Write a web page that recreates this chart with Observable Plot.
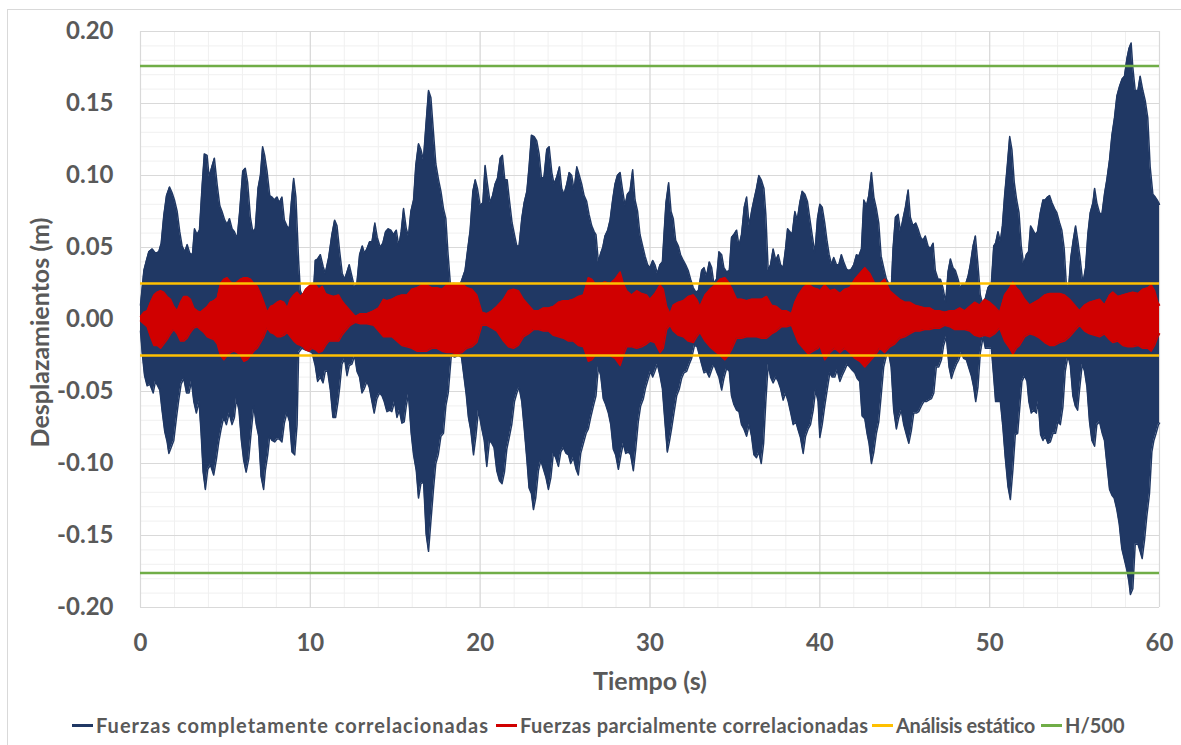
<!DOCTYPE html>
<html>
<head>
<meta charset="utf-8">
<script src="https://cdn.jsdelivr.net/npm/d3@7"></script>
<script src="https://cdn.jsdelivr.net/npm/@observablehq/plot@0.6"></script>
<style>
  html, body { margin: 0; padding: 0; background: #fff; }
  #wrap { position: relative; width: 1181px; height: 745px; overflow: hidden; font-family: Lato, "Open Sans", sans-serif; }
  #frame { position: absolute; left: 7px; top: 9px; width: 1200px; height: 760px; border: 1px solid #d9d9d9; box-sizing: border-box; }
  #chart { position: absolute; left: 0; top: 0; }
  .leg { position: absolute; top: 711px; height: 28px; display: flex; align-items: center; white-space: nowrap;
         font-size: 20px; font-weight: bold; color: #595959; }
  .leg i { display: inline-block; width: 21px; height: 3px; margin-right: 3px; }
</style>
</head>
<body>
<div id="wrap">
  <div id="frame"></div>
  <div id="chart"></div>
  <div class="leg" style="left:72px"><i style="background:#203864"></i><span style="letter-spacing:1px">Fuerzas completamente correlacionadas</span></div>
  <div class="leg" style="left:496px"><i style="background:#d00000"></i><span style="letter-spacing:0.45px">Fuerzas parcialmente correlacionadas</span></div>
  <div class="leg" style="left:872px"><i style="background:#ffc000"></i><span style="letter-spacing:-0.25px">Análisis estático</span></div>
  <div class="leg" style="left:1041px"><i style="background:#70ad47"></i><span>H/500</span></div>
</div>
<script>
// Displacement peaks [time (s), displacement (m)] — fully correlated forces, positive side
const blueUpper = [
[0.00,0.010],[0.20,0.034],[0.35,0.041],[0.49,0.047],[0.69,0.049],[0.88,0.046],[1.08,0.047],[1.22,0.053],[1.37,0.072],[1.53,0.086],[1.71,0.092],[1.86,0.088],[2.00,0.083],[2.16,0.075],[2.31,0.061],[2.45,0.051],[2.61,0.047],[2.75,0.052],[2.90,0.046],[3.06,0.045],[3.18,0.063],[3.33,0.059],[3.47,0.062],[3.63,0.093],[3.76,0.115],[3.92,0.114],[4.04,0.099],[4.20,0.106],[4.35,0.112],[4.51,0.094],[4.67,0.079],[4.80,0.075],[4.96,0.069],[5.10,0.066],[5.24,0.070],[5.39,0.063],[5.53,0.061],[5.69,0.056],[5.84,0.075],[6.02,0.103],[6.17,0.105],[6.31,0.095],[6.47,0.071],[6.61,0.061],[6.76,0.063],[6.92,0.091],[7.06,0.100],[7.19,0.120],[7.31,0.114],[7.45,0.103],[7.61,0.086],[7.74,0.085],[7.88,0.083],[8.04,0.085],[8.17,0.081],[8.33,0.085],[8.47,0.069],[8.62,0.065],[8.76,0.063],[8.88,0.081],[9.02,0.098],[9.15,0.085],[9.31,0.041],[9.41,0.020],[9.60,0.015],[9.80,0.018],[10.00,0.020],[10.20,0.022],
[10.29,0.041],[10.43,0.042],[10.59,0.045],[10.75,0.037],[10.88,0.032],[11.08,0.043],[11.27,0.059],[11.43,0.069],[11.57,0.065],[11.73,0.047],[11.88,0.032],[12.02,0.028],[12.16,0.033],[12.29,0.038],[12.45,0.030],[12.61,0.022],[12.74,0.025],[12.90,0.045],[13.06,0.051],[13.19,0.046],[13.33,0.049],[13.49,0.054],[13.63,0.054],[13.80,0.067],[13.94,0.057],[14.12,0.050],[14.27,0.053],[14.43,0.061],[14.59,0.063],[14.74,0.062],[14.90,0.059],[15.06,0.062],[15.21,0.051],[15.35,0.061],[15.49,0.077],[15.65,0.063],[15.78,0.058],[15.92,0.075],[16.08,0.083],[16.21,0.107],[16.37,0.122],[16.51,0.118],[16.66,0.111],[16.80,0.134],[16.96,0.159],[17.10,0.154],[17.25,0.130],[17.39,0.108],[17.55,0.097],[17.69,0.089],[17.84,0.077],[17.98,0.070],[18.10,0.047],[18.25,0.024],[18.45,0.025],[18.65,0.024],[18.85,0.025],[19.11,0.034],[19.27,0.049],[19.41,0.062],[19.57,0.089],[19.71,0.097],[19.84,0.091],
[20.00,0.079],[20.16,0.081],[20.29,0.107],[20.43,0.094],[20.59,0.081],[20.73,0.086],[20.88,0.094],[21.02,0.098],[21.18,0.112],[21.31,0.114],[21.45,0.097],[21.59,0.097],[21.73,0.082],[21.88,0.067],[22.02,0.059],[22.16,0.051],[22.29,0.051],[22.45,0.070],[22.59,0.081],[22.75,0.089],[22.88,0.106],[23.02,0.128],[23.18,0.127],[23.33,0.124],[23.47,0.115],[23.61,0.098],[23.76,0.099],[23.92,0.118],[24.06,0.120],[24.22,0.102],[24.35,0.094],[24.51,0.099],[24.67,0.106],[24.80,0.091],[24.94,0.087],[25.10,0.094],[25.24,0.102],[25.39,0.100],[25.53,0.090],[25.69,0.106],[25.84,0.100],[25.98,0.094],[26.12,0.086],[26.27,0.082],[26.41,0.073],[26.57,0.065],[26.71,0.061],[26.82,0.059],[26.96,0.040],[27.10,0.046],[27.22,0.050],[27.35,0.058],[27.51,0.062],[27.65,0.069],[27.80,0.083],[27.94,0.094],[28.08,0.100],[28.24,0.102],[28.37,0.091],[28.53,0.079],[28.67,0.087],[28.82,0.089],[28.98,0.104],[29.12,0.083],[29.27,0.075],[29.41,0.059],[29.57,0.051],[29.71,0.044],[29.86,0.038],
[30.00,0.036],[30.16,0.041],[30.29,0.038],[30.43,0.032],[30.59,0.038],[30.73,0.040],[30.82,0.058],[30.94,0.081],[31.10,0.095],[31.24,0.075],[31.37,0.070],[31.51,0.055],[31.67,0.051],[31.80,0.045],[31.96,0.041],[32.10,0.038],[32.25,0.034],[32.39,0.028],[32.55,0.022],[32.70,0.019],[32.85,0.020],[33.04,0.034],[33.18,0.036],[33.33,0.030],[33.49,0.040],[33.63,0.036],[33.76,0.025],[33.92,0.028],[34.06,0.047],[34.22,0.045],[34.35,0.036],[34.51,0.033],[34.67,0.034],[34.80,0.057],[34.94,0.059],[35.10,0.062],[35.24,0.051],[35.39,0.059],[35.55,0.078],[35.69,0.085],[35.84,0.065],[35.98,0.075],[36.12,0.083],[36.27,0.091],[36.41,0.100],[36.55,0.097],[36.71,0.091],[36.82,0.073],[36.96,0.034],[37.10,0.038],[37.25,0.049],[37.41,0.041],[37.55,0.045],[37.69,0.038],[37.84,0.036],[37.98,0.049],[38.10,0.063],[38.24,0.061],[38.37,0.059],[38.53,0.075],[38.67,0.069],[38.82,0.081],[38.96,0.089],[39.12,0.087],[39.27,0.082],[39.41,0.070],[39.57,0.057],[39.71,0.046],[39.86,0.070],
[40.00,0.080],[40.14,0.078],[40.29,0.067],[40.43,0.054],[40.55,0.045],[40.69,0.038],[40.82,0.043],[40.98,0.038],[41.12,0.038],[41.27,0.045],[41.41,0.040],[41.57,0.035],[41.73,0.034],[41.86,0.035],[42.00,0.038],[42.16,0.045],[42.29,0.044],[42.45,0.049],[42.59,0.083],[42.75,0.079],[42.88,0.086],[43.04,0.102],[43.18,0.085],[43.33,0.077],[43.47,0.067],[43.61,0.044],[43.76,0.036],[43.92,0.028],[44.06,0.025],[44.22,0.025],[44.31,0.049],[44.45,0.071],[44.61,0.073],[44.75,0.061],[44.90,0.070],[45.04,0.078],[45.20,0.090],[45.33,0.071],[45.49,0.065],[45.65,0.067],[45.78,0.063],[45.94,0.057],[46.08,0.055],[46.21,0.058],[46.37,0.051],[46.51,0.049],[46.67,0.053],[46.80,0.034],[46.96,0.028],[47.10,0.028],[47.25,0.022],[47.41,0.012],[47.55,0.033],[47.69,0.042],[47.84,0.036],[47.98,0.034],[48.14,0.028],[48.27,0.022],[48.43,0.025],[48.57,0.024],[48.73,0.030],[48.86,0.038],[49.02,0.051],[49.16,0.058],[49.31,0.038],[49.45,0.017],[49.61,0.010],[49.75,0.015],[49.90,0.022],
[50.10,0.025],[50.24,0.051],[50.35,0.053],[50.49,0.061],[50.63,0.054],[50.75,0.065],[50.88,0.086],[51.04,0.107],[51.18,0.127],[51.31,0.118],[51.45,0.095],[51.59,0.083],[51.73,0.074],[51.86,0.051],[52.00,0.038],[52.16,0.045],[52.29,0.047],[52.41,0.065],[52.55,0.062],[52.69,0.059],[52.82,0.061],[52.98,0.074],[53.14,0.083],[53.27,0.083],[53.41,0.085],[53.53,0.086],[53.67,0.081],[53.82,0.077],[53.96,0.074],[54.12,0.067],[54.25,0.062],[54.39,0.049],[54.51,0.025],[54.65,0.022],[54.78,0.043],[54.92,0.055],[55.06,0.065],[55.20,0.054],[55.33,0.042],[55.49,0.025],[55.65,0.036],[55.78,0.059],[55.92,0.074],[56.08,0.081],[56.18,0.091],[56.31,0.081],[56.47,0.074],[56.61,0.073],[56.76,0.087],[56.90,0.097],[57.06,0.111],[57.20,0.128],[57.35,0.140],[57.49,0.155],[57.65,0.162],[57.80,0.167],[57.94,0.169],[58.08,0.181],[58.20,0.188],[58.33,0.192],[58.43,0.175],[58.57,0.159],[58.73,0.159],[58.86,0.169],[59.02,0.159],[59.16,0.152],[59.31,0.140],[59.45,0.106],[59.61,0.087],[59.75,0.085],[59.86,0.083],[60.00,0.080]
];

// Fully correlated forces, negative side
const blueLower = [
[0.00,-0.008],[0.10,-0.023],[0.24,-0.039],[0.39,-0.046],[0.55,-0.045],[0.75,-0.051],[0.88,-0.043],[1.14,-0.049],[1.27,-0.063],[1.43,-0.078],[1.57,-0.085],[1.67,-0.093],[1.80,-0.089],[1.96,-0.084],[2.12,-0.068],[2.25,-0.056],[2.39,-0.045],[2.55,-0.041],[2.71,-0.051],[2.86,-0.051],[3.00,-0.043],[3.14,-0.057],[3.29,-0.065],[3.45,-0.057],[3.57,-0.079],[3.69,-0.106],[3.82,-0.118],[3.96,-0.104],[4.12,-0.101],[4.31,-0.108],[4.47,-0.097],[4.61,-0.085],[4.75,-0.076],[4.90,-0.068],[5.06,-0.073],[5.22,-0.065],[5.39,-0.073],[5.53,-0.068],[5.65,-0.055],[5.80,-0.063],[5.94,-0.084],[6.08,-0.098],[6.22,-0.106],[6.37,-0.097],[6.51,-0.079],[6.67,-0.060],[6.82,-0.073],[6.96,-0.081],[7.10,-0.109],[7.25,-0.118],[7.35,-0.105],[7.49,-0.094],[7.61,-0.081],[7.74,-0.084],[7.90,-0.085],[8.04,-0.083],[8.17,-0.083],[8.33,-0.085],[8.47,-0.072],[8.62,-0.065],[8.78,-0.071],[8.92,-0.092],[9.08,-0.094],[9.22,-0.073],[9.31,-0.023],[9.50,-0.020],[9.70,-0.021],[9.90,-0.022],[10.10,-0.023],
[10.29,-0.032],[10.43,-0.043],[10.59,-0.040],[10.75,-0.044],[10.88,-0.036],[11.02,-0.036],[11.18,-0.049],[11.33,-0.068],[11.49,-0.068],[11.63,-0.057],[11.73,-0.047],[11.86,-0.031],[12.02,-0.027],[12.16,-0.039],[12.29,-0.032],[12.45,-0.031],[12.61,-0.025],[12.75,-0.036],[12.90,-0.040],[13.04,-0.051],[13.18,-0.048],[13.33,-0.043],[13.47,-0.047],[13.63,-0.057],[13.76,-0.065],[13.92,-0.055],[14.08,-0.051],[14.22,-0.053],[14.35,-0.057],[14.51,-0.064],[14.67,-0.063],[14.80,-0.064],[14.96,-0.057],[15.10,-0.068],[15.24,-0.063],[15.39,-0.072],[15.53,-0.071],[15.65,-0.060],[15.78,-0.052],[15.94,-0.079],[16.08,-0.094],[16.24,-0.105],[16.37,-0.124],[16.51,-0.114],[16.67,-0.113],[16.82,-0.149],[16.96,-0.161],[17.10,-0.140],[17.25,-0.118],[17.39,-0.100],[17.53,-0.094],[17.69,-0.081],[17.84,-0.079],[17.98,-0.060],[18.12,-0.051],[18.30,-0.025],[18.50,-0.026],[18.70,-0.025],[18.90,-0.026],[19.18,-0.052],[19.31,-0.068],[19.45,-0.077],[19.61,-0.094],[19.75,-0.081],[19.90,-0.063],
[20.10,-0.076],[20.24,-0.084],[20.39,-0.102],[20.55,-0.084],[20.69,-0.086],[20.82,-0.089],[20.98,-0.105],[21.14,-0.112],[21.29,-0.114],[21.43,-0.106],[21.57,-0.090],[21.71,-0.082],[21.86,-0.073],[22.02,-0.057],[22.16,-0.051],[22.29,-0.047],[22.45,-0.057],[22.59,-0.075],[22.75,-0.097],[22.88,-0.117],[23.02,-0.121],[23.14,-0.132],[23.27,-0.124],[23.43,-0.105],[23.57,-0.098],[23.73,-0.104],[23.88,-0.110],[24.02,-0.118],[24.16,-0.110],[24.31,-0.093],[24.45,-0.096],[24.61,-0.102],[24.75,-0.092],[24.90,-0.089],[25.06,-0.093],[25.20,-0.094],[25.33,-0.100],[25.49,-0.096],[25.65,-0.104],[25.78,-0.108],[25.92,-0.093],[26.08,-0.086],[26.24,-0.079],[26.37,-0.076],[26.51,-0.068],[26.67,-0.060],[26.82,-0.053],[26.96,-0.033],[27.10,-0.039],[27.25,-0.055],[27.39,-0.059],[27.55,-0.065],[27.69,-0.073],[27.84,-0.090],[27.98,-0.094],[28.14,-0.104],[28.29,-0.094],[28.43,-0.086],[28.57,-0.093],[28.73,-0.092],[28.86,-0.094],[29.02,-0.105],[29.16,-0.090],[29.31,-0.071],[29.45,-0.060],[29.61,-0.055],[29.75,-0.047],[29.90,-0.041],
[30.03,-0.036],[30.16,-0.040],[30.29,-0.036],[30.43,-0.031],[30.59,-0.039],[30.73,-0.048],[30.86,-0.068],[31.02,-0.092],[31.14,-0.085],[31.27,-0.076],[31.41,-0.065],[31.57,-0.053],[31.73,-0.048],[31.86,-0.041],[32.00,-0.037],[32.16,-0.036],[32.31,-0.031],[32.45,-0.027],[32.62,-0.018],[32.78,-0.019],[33.04,-0.031],[33.18,-0.037],[33.33,-0.036],[33.49,-0.040],[33.63,-0.035],[33.76,-0.031],[33.92,-0.036],[34.06,-0.040],[34.22,-0.049],[34.35,-0.041],[34.51,-0.034],[34.67,-0.036],[34.80,-0.053],[34.94,-0.059],[35.10,-0.063],[35.24,-0.064],[35.39,-0.073],[35.53,-0.076],[35.69,-0.081],[35.84,-0.073],[35.98,-0.081],[36.12,-0.094],[36.27,-0.096],[36.41,-0.092],[36.55,-0.100],[36.69,-0.086],[36.82,-0.057],[36.96,-0.031],[37.10,-0.040],[37.25,-0.044],[37.41,-0.040],[37.55,-0.043],[37.69,-0.048],[37.84,-0.056],[37.98,-0.051],[38.14,-0.057],[38.29,-0.065],[38.43,-0.073],[38.59,-0.071],[38.73,-0.077],[38.86,-0.082],[39.02,-0.093],[39.16,-0.081],[39.31,-0.076],[39.45,-0.073],[39.61,-0.063],[39.75,-0.049],[39.90,-0.057],
[40.00,-0.082],[40.14,-0.073],[40.29,-0.060],[40.43,-0.049],[40.59,-0.037],[40.73,-0.040],[40.88,-0.040],[41.02,-0.035],[41.18,-0.043],[41.31,-0.039],[41.47,-0.035],[41.61,-0.031],[41.76,-0.033],[41.90,-0.035],[42.06,-0.037],[42.20,-0.041],[42.35,-0.043],[42.49,-0.067],[42.65,-0.069],[42.78,-0.079],[42.90,-0.086],[43.04,-0.100],[43.18,-0.092],[43.33,-0.079],[43.47,-0.071],[43.61,-0.053],[43.76,-0.033],[43.92,-0.025],[44.06,-0.024],[44.20,-0.033],[44.35,-0.063],[44.51,-0.076],[44.65,-0.068],[44.80,-0.063],[44.94,-0.073],[45.10,-0.080],[45.24,-0.086],[45.39,-0.077],[45.53,-0.065],[45.69,-0.065],[45.82,-0.064],[45.98,-0.060],[46.12,-0.057],[46.27,-0.057],[46.41,-0.056],[46.57,-0.055],[46.71,-0.051],[46.86,-0.033],[47.00,-0.033],[47.16,-0.028],[47.29,-0.018],[47.45,-0.012],[47.61,-0.033],[47.75,-0.041],[47.88,-0.036],[48.04,-0.031],[48.18,-0.028],[48.33,-0.023],[48.47,-0.027],[48.63,-0.028],[48.76,-0.033],[48.92,-0.039],[49.06,-0.047],[49.18,-0.057],[49.31,-0.047],[49.45,-0.023],[49.61,-0.012],[49.75,-0.020],[49.90,-0.020],
[50.10,-0.020],[50.24,-0.040],[50.35,-0.057],[50.49,-0.057],[50.63,-0.057],[50.78,-0.075],[50.92,-0.096],[51.08,-0.116],[51.22,-0.125],[51.37,-0.104],[51.51,-0.080],[51.65,-0.079],[51.76,-0.063],[51.90,-0.043],[52.06,-0.039],[52.20,-0.043],[52.31,-0.057],[52.45,-0.065],[52.59,-0.063],[52.75,-0.065],[52.86,-0.057],[53.00,-0.080],[53.14,-0.084],[53.27,-0.081],[53.43,-0.086],[53.57,-0.085],[53.73,-0.079],[53.88,-0.079],[54.02,-0.071],[54.16,-0.073],[54.31,-0.061],[54.45,-0.036],[54.61,-0.025],[54.75,-0.032],[54.90,-0.053],[55.04,-0.060],[55.18,-0.063],[55.29,-0.049],[55.45,-0.031],[55.59,-0.036],[55.73,-0.047],[55.88,-0.071],[56.02,-0.084],[56.18,-0.088],[56.31,-0.073],[56.47,-0.071],[56.63,-0.079],[56.76,-0.084],[56.90,-0.100],[57.06,-0.118],[57.20,-0.122],[57.33,-0.124],[57.49,-0.132],[57.63,-0.142],[57.78,-0.159],[57.92,-0.166],[58.08,-0.174],[58.20,-0.182],[58.29,-0.191],[58.43,-0.187],[58.57,-0.156],[58.73,-0.156],[58.86,-0.161],[58.98,-0.166],[59.12,-0.153],[59.25,-0.137],[59.41,-0.121],[59.55,-0.092],[59.67,-0.084],[59.80,-0.079],[59.94,-0.073],[60.00,-0.072]
];

// Partially correlated forces: [time (s), positive peak (m), negative peak (m)]
const redPeaks = [
[0.00,0.002,-0.001],[0.20,0.005,-0.003],[0.39,0.006,-0.005],[0.59,0.012,-0.012],[0.79,0.017,-0.018],[0.98,0.019,-0.018],[1.18,0.020,-0.020],[1.37,0.019,-0.017],[1.57,0.016,-0.014],[1.77,0.014,-0.010],[1.96,0.009,-0.007],[2.16,0.006,-0.010],[2.36,0.012,-0.015],[2.55,0.016,-0.015],[2.75,0.016,-0.013],[2.94,0.014,-0.009],[3.14,0.008,-0.006],[3.34,0.006,-0.005],[3.53,0.005,-0.007],[3.73,0.007,-0.009],[3.93,0.009,-0.012],[4.12,0.012,-0.013],[4.32,0.013,-0.014],[4.52,0.015,-0.017],[4.71,0.025,-0.025],[4.91,0.028,-0.028],[5.10,0.029,-0.025],[5.30,0.026,-0.023],[5.50,0.025,-0.022],[5.69,0.026,-0.023],[5.89,0.028,-0.025],[6.09,0.029,-0.029],[6.28,0.029,-0.028],[6.48,0.028,-0.025],[6.67,0.025,-0.022],[6.87,0.023,-0.020],[7.07,0.018,-0.016],[7.26,0.012,-0.012],[7.46,0.005,-0.006],[7.66,0.009,-0.009],[7.85,0.010,-0.010],[8.05,0.012,-0.012],[8.24,0.013,-0.012],[8.44,0.012,-0.011],[8.64,0.008,-0.009],[8.83,0.014,-0.012],[9.03,0.017,-0.015],[9.22,0.019,-0.017],[9.42,0.016,-0.018],[9.58,0.018,-0.019],[9.72,0.021,-0.021],[9.91,0.023,-0.022],[10.11,0.025,-0.020],[10.31,0.024,-0.021],[10.50,0.021,-0.023],[10.70,0.023,-0.022],[10.90,0.018,-0.018],[11.09,0.017,-0.015],
[11.37,0.016,-0.015],[11.67,0.017,-0.015],[11.86,0.013,-0.011],[12.06,0.010,-0.008],[12.35,0.006,-0.004],[12.65,0.002,-0.002],[12.94,0.004,-0.003],[13.33,0.004,-0.003],[13.73,0.006,-0.004],[14.02,0.008,-0.008],[14.31,0.014,-0.012],[14.51,0.013,-0.012],[14.80,0.014,-0.012],[15.10,0.016,-0.015],[15.39,0.017,-0.018],[15.69,0.017,-0.019],[15.98,0.021,-0.020],[16.27,0.022,-0.022],[16.57,0.024,-0.022],[16.86,0.024,-0.022],[17.16,0.022,-0.020],[17.45,0.022,-0.020],[17.75,0.021,-0.022],[18.04,0.024,-0.023],[18.33,0.025,-0.023],[18.63,0.025,-0.024],[18.92,0.025,-0.023],[19.22,0.022,-0.020],[19.51,0.021,-0.019],[19.80,0.017,-0.016],
[20.10,0.005,-0.004],[20.39,0.004,-0.004],[20.69,0.006,-0.006],[20.98,0.009,-0.008],[21.37,0.014,-0.015],[21.67,0.020,-0.019],[21.96,0.021,-0.020],[22.25,0.020,-0.018],[22.55,0.014,-0.012],[22.84,0.010,-0.010],[23.14,0.006,-0.007],[23.43,0.006,-0.007],[23.73,0.008,-0.008],[24.02,0.008,-0.008],[24.31,0.009,-0.011],[24.61,0.012,-0.012],[24.90,0.013,-0.013],[25.20,0.013,-0.015],[25.49,0.014,-0.015],[25.78,0.016,-0.018],[26.08,0.017,-0.019],[26.37,0.029,-0.029],[26.57,0.028,-0.028],[26.76,0.025,-0.025],[27.06,0.025,-0.025],[27.35,0.026,-0.025],[27.65,0.025,-0.025],[27.94,0.028,-0.027],[28.24,0.033,-0.032],[28.43,0.025,-0.025],[28.63,0.020,-0.019],[28.92,0.017,-0.019],[29.22,0.020,-0.020],[29.51,0.018,-0.019],[29.80,0.017,-0.017],
[30.00,0.014,-0.015],[30.29,0.018,-0.016],[30.59,0.024,-0.023],[30.78,0.021,-0.020],[30.98,0.009,-0.007],[31.18,0.004,-0.004],[31.37,0.010,-0.008],[31.67,0.012,-0.011],[31.96,0.013,-0.012],[32.25,0.016,-0.015],[32.55,0.017,-0.016],[32.75,0.014,-0.012],[32.94,0.009,-0.009],[33.24,0.017,-0.015],[33.53,0.021,-0.019],[33.82,0.024,-0.022],[34.12,0.028,-0.025],[34.41,0.029,-0.028],[34.61,0.026,-0.025],[34.80,0.022,-0.021],[35.10,0.014,-0.013],[35.39,0.014,-0.013],[35.69,0.013,-0.012],[35.98,0.014,-0.012],[36.27,0.014,-0.012],[36.57,0.014,-0.013],[36.86,0.016,-0.013],[37.16,0.010,-0.010],[37.45,0.009,-0.008],[37.75,0.006,-0.005],[38.04,0.006,-0.005],[38.33,0.004,-0.004],[38.53,0.012,-0.010],[38.73,0.017,-0.016],[39.02,0.022,-0.020],[39.31,0.025,-0.024],[39.61,0.022,-0.022],[39.90,0.021,-0.020],
[40.00,0.020,-0.018],[40.29,0.024,-0.028],[40.59,0.020,-0.023],[40.88,0.021,-0.020],[41.18,0.018,-0.023],[41.47,0.021,-0.020],[41.76,0.022,-0.023],[42.06,0.028,-0.027],[42.35,0.032,-0.029],[42.65,0.036,-0.033],[42.94,0.032,-0.029],[43.24,0.025,-0.025],[43.53,0.025,-0.020],[43.82,0.028,-0.023],[44.12,0.020,-0.019],[44.41,0.017,-0.017],[44.71,0.014,-0.013],[45.00,0.012,-0.012],[45.29,0.012,-0.010],[45.59,0.010,-0.008],[45.88,0.009,-0.008],[46.18,0.008,-0.007],[46.47,0.008,-0.007],[46.76,0.006,-0.006],[47.06,0.006,-0.006],[47.35,0.005,-0.004],[47.65,0.006,-0.005],[47.94,0.006,-0.007],[48.24,0.008,-0.007],[48.53,0.006,-0.007],[48.82,0.009,-0.008],[49.12,0.012,-0.011],[49.41,0.010,-0.012],[49.71,0.014,-0.011],[50.00,0.012,-0.012],
[50.29,0.009,-0.010],[50.59,0.005,-0.006],[50.88,0.017,-0.015],[51.18,0.022,-0.020],[51.37,0.026,-0.024],[51.57,0.022,-0.020],[51.76,0.020,-0.018],[52.06,0.014,-0.012],[52.35,0.010,-0.010],[52.65,0.012,-0.011],[52.94,0.014,-0.013],[53.24,0.017,-0.016],[53.53,0.018,-0.018],[53.82,0.018,-0.018],[54.12,0.018,-0.016],[54.41,0.017,-0.015],[54.71,0.014,-0.012],[55.00,0.010,-0.008],[55.29,0.006,-0.004],[55.59,0.010,-0.008],[55.88,0.012,-0.010],[56.18,0.013,-0.011],[56.47,0.014,-0.012],[56.76,0.010,-0.010],[57.06,0.017,-0.014],[57.25,0.019,-0.016],[57.55,0.016,-0.015],[57.84,0.017,-0.018],[58.14,0.018,-0.019],[58.43,0.019,-0.019],[58.73,0.018,-0.018],[59.02,0.021,-0.020],[59.31,0.022,-0.020],[59.51,0.024,-0.022],[59.71,0.020,-0.018],[59.90,0.012,-0.012],[60.00,0.010,-0.010]
];

// Horizontal reference levels (m)
const staticLimit = 0.025;   // Análisis estático
const driftLimit = 0.176;    // H/500

// Axis ticks
const xTicks = [0, 10, 20, 30, 40, 50, 60];
const yTicks = [-0.20, -0.15, -0.10, -0.05, 0.00, 0.05, 0.10, 0.15, 0.20];
const xMinor = d3.range(0, 61, 2);
const yMinor = d3.range(-20, 21).map(i => i / 100);

const BLUE = "#203864", RED = "#d00000", ORANGE = "#ffc000", GREEN = "#70ad47";
const TEXT = "#595959";

const t = d => d[0], v = d => d[1];

const chart = Plot.plot({
  width: 1181,
  height: 700,
  marginLeft: 140,
  marginRight: 22,
  marginTop: 31,
  marginBottom: 93,
  x: {domain: [0, 60]},
  y: {domain: [-0.2, 0.2]},
  style: {fontFamily: "Lato, 'Open Sans', sans-serif", background: "transparent", overflow: "visible"},
  marks: [
    // minor then major gridlines
    Plot.gridX(xMinor, {stroke: "#f0f0f0", strokeOpacity: 1, strokeWidth: 1}),
    Plot.gridY(yMinor, {stroke: "#f0f0f0", strokeOpacity: 1, strokeWidth: 1}),
    Plot.gridX(xTicks, {stroke: "#d9d9d9", strokeOpacity: 1, strokeWidth: 1.2}),
    Plot.gridY(yTicks, {stroke: "#d9d9d9", strokeOpacity: 1, strokeWidth: 1.2}),

    // fully correlated response
    Plot.areaY(blueUpper, {x: t, y1: 0, y2: v, fill: BLUE}),
    Plot.areaY(blueLower, {x: t, y1: 0, y2: v, fill: BLUE}),
    Plot.line(blueUpper, {x: t, y: v, stroke: BLUE, strokeWidth: 1.5}),
    Plot.line(blueLower, {x: t, y: v, stroke: BLUE, strokeWidth: 1.5}),

    // partially correlated response
    Plot.areaY(redPeaks, {x: d => d[0], y1: d => d[2], y2: d => d[1], fill: RED}),
    Plot.line(redPeaks, {x: d => d[0], y: d => d[1], stroke: RED, strokeWidth: 1.5}),
    Plot.line(redPeaks, {x: d => d[0], y: d => d[2], stroke: RED, strokeWidth: 1.5}),

    // limits
    Plot.ruleY([staticLimit, -staticLimit], {stroke: ORANGE, strokeWidth: 2.5}),
    Plot.ruleY([driftLimit, -driftLimit], {stroke: GREEN, strokeWidth: 2.5}),

    // axes
    Plot.axisX(xTicks, {tickSize: 0, tickPadding: 26, fontSize: 24, fontWeight: "bold", fill: TEXT, label: null}),
    Plot.axisY(yTicks, {tickSize: 0, tickPadding: 27, fontSize: 24, fontWeight: "bold", fill: TEXT, label: null,
                        tickFormat: d => d.toFixed(2)}),

    // axis titles
    Plot.text(["Tiempo (s)"], {frameAnchor: "bottom", dy: 74, lineAnchor: "middle", textAnchor: "middle",
                               fontSize: 25, fontWeight: "bold", fill: TEXT}),
    Plot.text(["Desplazamientos (m)"], {frameAnchor: "left", dx: -100, dy: 13, rotate: -90, lineAnchor: "middle",
                                        textAnchor: "middle", fontSize: 25, fontWeight: "bold", fill: TEXT})
  ]
});

document.getElementById("chart").appendChild(chart);
</script>
</body>
</html>
